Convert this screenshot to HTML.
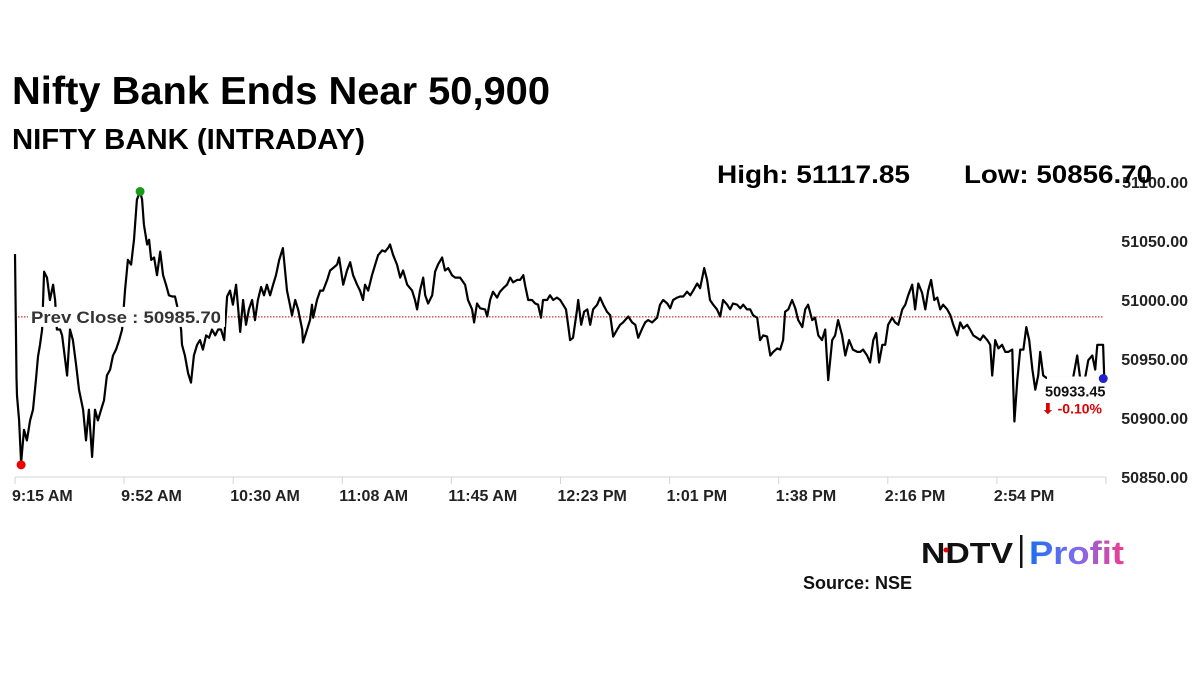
<!DOCTYPE html>
<html><head><meta charset="utf-8"><style>
html,body{margin:0;padding:0;background:#fff;}
svg{display:block;font-family:"Liberation Sans",Arial,sans-serif;}
</style></head><body>
<svg id="chart" width="1200" height="675" viewBox="0 0 1200 675" xmlns="http://www.w3.org/2000/svg">
<defs><linearGradient id="pg" x1="0" x2="1" y1="0" y2="0"><stop offset="0" stop-color="#1e6ff0"/><stop offset="0.5" stop-color="#7b6cf0"/><stop offset="1" stop-color="#f03c8c"/></linearGradient></defs>
<text x="12" y="104" font-size="39" font-weight="bold" fill="#000" textLength="538" lengthAdjust="spacingAndGlyphs">Nifty Bank Ends Near 50,900</text>
<text x="12" y="149" font-size="29" font-weight="bold" fill="#000" textLength="353" lengthAdjust="spacingAndGlyphs">NIFTY BANK (INTRADAY)</text>
<g id="axes"></g>
<g id="series"></g>
<text x="717" y="183" font-size="25" font-weight="bold" fill="#000" textLength="193" lengthAdjust="spacingAndGlyphs">High: 51117.85</text>
<text x="964" y="183" font-size="25" font-weight="bold" fill="#000" textLength="188" lengthAdjust="spacingAndGlyphs">Low: 50856.70</text>
<g>
<text x="921" y="563" font-size="29" font-weight="bold" fill="#111" textLength="92" lengthAdjust="spacingAndGlyphs">NDTV</text>
<circle cx="946" cy="550" r="2.5" fill="#e00"/>
<rect x="1020" y="535" width="2.5" height="33" fill="#111"/>
<text x="1029" y="564" font-size="32" font-weight="bold" fill="url(#pg)" textLength="95" lengthAdjust="spacingAndGlyphs">Profit</text>
</g>
<text x="803" y="589" font-size="18" font-weight="bold" fill="#111">Source: NSE</text>
</svg>
<script>
const tickLabels=["9:15 AM","9:52 AM","10:30 AM","11:08 AM","11:45 AM","12:23 PM","1:01 PM","1:38 PM","2:16 PM","2:54 PM"];
const yTicks=[51100,51050,51000,50950,50900,50850];
const prevClose=50985.70;
const lastValue=50933.45;
const changePct="-0.10%";
const times=[0,0.5,0.7,1.4,2.1,3.1,4.1,5.2,6.2,7.2,7.9,8.6,9.3,10.0,11.0,12.0,13.1,13.8,14.4,15.5,16.2,17.9,18.9,19.9,21.0,22.0,23.4,24.4,25.4,26.5,27.5,28.5,29.6,30.6,31.6,32.7,33.7,34.7,35.8,36.8,37.8,38.8,39.9,40.9,41.9,43.0,43.7,44.3,45.4,46.1,46.8,47.8,48.8,49.9,50.9,51.9,52.9,54.0,55.0,56.0,57.1,57.4,58.4,59.5,60.5,61.5,62.6,63.6,64.6,65.7,66.7,67.7,68.8,69.8,70.8,71.9,72.9,73.9,74.9,76.0,77.4,78.4,79.4,80.4,81.5,82.5,83.5,84.6,85.6,86.6,87.7,88.7,89.7,90.8,92.1,93.5,94.5,95.2,96.3,97.3,98.7,99.0,100.4,101.4,102.1,102.5,103.8,104.9,105.9,107.3,108.3,109.3,110.7,111.4,112.8,114.1,115.2,116.2,117.6,118.6,119.6,120.3,121.4,122.7,123.8,124.8,126.2,127.2,128.2,128.9,130.0,131.3,132.4,133.4,134.8,136.5,137.5,138.2,139.2,140.3,141.0,142.0,143.4,144.4,145.4,146.8,147.8,148.9,150.2,151.3,153.0,154.7,155.7,157.1,157.8,158.8,159.9,161.6,162.3,163.3,164.3,165.7,166.7,167.8,169.1,170.2,171.2,172.6,173.6,174.7,175.3,176.4,177.7,178.8,179.8,180.8,181.5,182.9,183.9,185.0,186.3,187.4,188.4,189.4,190.1,190.8,191.8,193.2,193.6,194.6,195.6,196.7,197.7,198.7,200.1,201.1,202.2,203.5,204.6,205.6,207.0,208.0,209.0,210.8,212.1,213.2,214.2,215.6,216.6,217.6,219.0,220.7,221.7,222.8,224.2,225.2,226.2,227.6,228.6,229.7,231.0,232.1,233.1,234.5,235.5,236.9,237.9,238.9,240.0,241.3,242.4,243.4,244.8,245.8,246.8,248.2,249.3,250.3,251.6,252.7,253.7,255.1,256.1,257.2,258.5,259.6,260.6,262.0,263.0,264.0,264.7,265.8,267.1,268.2,269.2,270.6,271.6,272.6,274.0,275.0,276.1,277.4,278.5,279.5,280.9,281.9,282.9,284.3,285.4,286.7,288.0,289.5,290.5,291.5,292.9,293.9,295.0,296.0,297.0,298.1,299.1,300.1,301.5,302.5,303.6,305.0,306.0,307.0,308.4,309.4,310.5,311.8,312.9,313.9,314.9,316.0,317.0,318.0,319.0,320.4,321.5,322.5,323.9,324.9,325.9,327.3,328.3,329.4,330.7,331.8,332.8,334.2,335.2,335.9,336.9,338.0,339.3,340.4,341.4,342.8,343.1,343.5,344.5,345.5,346.6,347.6,348.6,349.7,350.7,351.7,352.4,353.4,354.5,362.7,363.7,365.1,366.1,367.8,368.9,370.3,371.3,372.0,374.0,374.4];
const values=[51039,50934,50919,50898,50862,50890,50881,50898,50907,50932,50952,50962,50975,51024,51019,51000,51013,51000,50975,50975,50970,50936,50975,50966,50945,50924,50907,50881,50907,50867,50907,50898,50907,50915,50936,50941,50953,50958,50966,50975,51008,51034,51030,51051,51085,51092,51085,51064,51047,51051,51034,51036,51021,51041,51021,51013,51004,51003,51003,50992,50975,50962,50953,50938,50930,50953,50962,50966,50958,50970,50968,50975,50970,50975,50975,50966,51003,51008,50996,51013,50973,51000,50979,50992,51000,50983,51000,51011,51004,51013,51004,51013,51021,51034,51044,51008,50996,50987,51000,50992,50975,50964,50975,50983,50996,50985,51000,51008,51008,51017,51025,51027,51030,51036,51013,51025,51032,51021,51013,51008,51000,51013,51008,51021,51030,51038,51042,51041,51044,51047,51038,51030,51019,51025,51013,51008,51000,50992,51008,51019,51004,50997,51004,51024,51030,51036,51025,51027,51021,51019,51019,51013,51000,50992,50981,50997,50993,50992,50986,51000,51007,51002,51007,51010,51013,51019,51015,51017,51017,51021,51013,51000,51000,50997,50996,50985,51000,51000,51004,51000,51002,51000,50996,50992,50979,50966,50968,50992,51000,50979,50990,50992,50979,50992,50996,51002,50996,50990,50987,50969,50975,50979,50981,50986,50981,50979,50968,50976,50981,50983,50981,50985,50996,51000,50997,50993,51000,51002,51003,51003,51007,51004,51008,51014,51010,51027,51017,51000,50996,50992,50986,51000,50996,50992,50997,50996,50993,50996,50992,50992,50987,50985,50966,50970,50969,50953,50956,50959,50958,50966,50990,50992,51000,50993,50983,50977,50992,50996,50983,50985,50970,50966,50975,50932,50966,50970,50983,50970,50953,50966,50958,50956,50956,50958,50953,50947,50966,50972,50947,50962,50962,50979,50985,50981,50979,50992,50996,51004,51013,50992,51014,51006,50992,51008,51017,51000,51002,50992,50996,50992,50987,50979,50970,50981,50976,50979,50975,50970,50968,50966,50970,50966,50962,50936,50966,50959,50962,50956,50956,50958,50928,50897,50932,50958,50958,50977,50966,50941,50924,50936,50956,50936,50934,50934,50934,50953,50934,50934,50949,50953,50941,50962,50962,50933];

const NS="http://www.w3.org/2000/svg";
const X0=15,X1=1106,TMAX=375,Y0=182,Y1=477,VMAX=51100,VMIN=50850;
function xs(t){return X0+(t/TMAX)*(X1-X0);}
function ys(v){return Y0+(VMAX-v)/(VMAX-VMIN)*(Y1-Y0);}
function mk(tag,attrs,parent){const e=document.createElementNS(NS,tag);for(const k in attrs)e.setAttribute(k,attrs[k]);parent.appendChild(e);return e;}
const axes=document.getElementById('axes');
const series=document.getElementById('series');

const base=mk('line',{x1:X0,x2:X1,y1:Y1,y2:Y1,stroke:'#d4d4d4','stroke-width':1},axes);


tickLabels.forEach((lab,i)=>{
  const x=xs(i*TMAX/10);
  const tk=mk('line',{x1:x,x2:x,y1:Y1,y2:Y1+7,stroke:'#d4d4d4','stroke-width':1},axes);
  
  
  const tx=mk('text',{x:x-3,y:501,'font-size':16,'font-weight':'bold',fill:'#222'},axes);
  
  
  tx.textContent=lab;
});
const endTick=mk('line',{x1:X1,x2:X1,y1:Y1,y2:Y1+7,stroke:'#d4d4d4','stroke-width':1},axes);


yTicks.forEach(v=>{
  const t=mk('text',{x:1188,y:ys(v)+6,'font-size':16,'font-weight':'bold',fill:'#222','text-anchor':'end'},axes);
  
  
  t.textContent=v.toFixed(2);
});

const pc=mk('line',{x1:X0,x2:1103,y1:ys(prevClose),y2:ys(prevClose),stroke:'#c00','stroke-width':1,'stroke-dasharray':'1.5,1.5'},series);



let d='';
times.forEach((t,i)=>{d+=(i?'L':'M')+xs(t).toFixed(1)+','+ys(values[i]).toFixed(1);});
const path=mk('path',{d:d,fill:'none',stroke:'#000','stroke-width':2.2,'stroke-linejoin':'round'},series);



const pcb=mk('rect',{x:28,y:ys(prevClose)-10,width:197,height:20,fill:'#fff'},series);


const pct=mk('text',{x:31,y:ys(prevClose)+6,'font-size':17,fill:'#333','font-weight':'bold',textLength:190,lengthAdjust:'spacingAndGlyphs'},series);


pct.textContent='Prev Close : '+prevClose.toFixed(2);

let iMin=0,iMax=0;values.forEach((v,i)=>{if(v<values[iMin])iMin=i;if(v>values[iMax])iMax=i;});
const dl=mk('circle',{cx:xs(times[iMin]),cy:ys(values[iMin])+2,r:4.5,fill:'#e00'},series);


const dh=mk('circle',{cx:xs(times[iMax]),cy:ys(values[iMax]),r:4.5,fill:'#1a9a1a'},series);



const lb=mk('rect',{x:1047,y:ys(lastValue)-2,width:58,height:40,fill:'#fff'},series);


const dc=mk('circle',{cx:xs(times[times.length-1])-1,cy:ys(lastValue),r:4.5,fill:'#2222cc'},series);


const lv=mk('text',{x:1045,y:ys(lastValue)+18,'font-size':14.5,'font-weight':'bold',fill:'#111'},series);


lv.textContent=lastValue.toFixed(2);
const lc=mk('text',{x:1042,y:ys(lastValue)+35,'font-size':14,fill:'#d00','font-weight':'bold'},series);


lc.textContent='\u2b07 '+changePct;
</script>
</body></html>
